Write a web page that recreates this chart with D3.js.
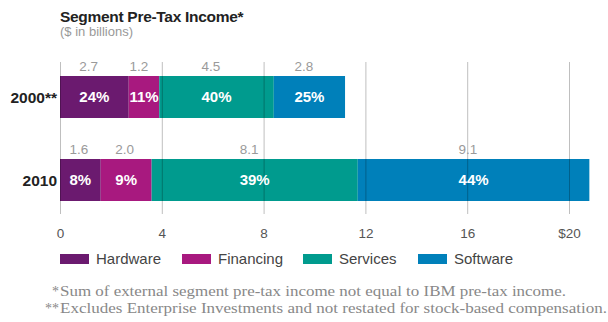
<!DOCTYPE html>
<html>
<head>
<meta charset="UTF-8">
<title>Segment Pre-Tax Income</title>
<script src="https://cdn.jsdelivr.net/npm/d3@7"></script>
<style>
  body { margin: 0; background: #fff; }
  svg text { font-family: "Liberation Sans", Arial, sans-serif; }
  svg text.note { font-family: "Liberation Serif", "Times New Roman", serif; }
</style>
</head>
<body>
<script>
var years = ["2000**", "2010"];
var segments = ["Hardware", "Financing", "Services", "Software"];
var income2000 = [2.7, 1.2, 4.5, 2.8];
var income2010 = [1.6, 2.0, 8.1, 9.1];
var share2000 = ["24%", "11%", "40%", "25%"];
var share2010 = ["8%", "9%", "39%", "44%"];
var tickValues = [0, 4, 8, 12, 16, 20];
var colors = ["#6b1a6f", "#a8197f", "#009b8e", "#0080ba"];

var w = 608, h = 322;

var svg = d3.select("body").append("svg")
  .attr("width", w)
  .attr("height", h);

var x = d3.scaleLinear().domain([0, 20]).range([60, 569]);
var y = d3.scaleBand().domain(years).range([76, 201]).paddingInner(0.494);
var color = d3.scaleOrdinal().domain(segments).range(colors);

// rows for the stack
var rows = [income2000, income2010].map(function(vals, i) {
  var r = { year: years[i] };
  segments.forEach(function(s, j) { r[s] = vals[j]; });
  return r;
});
var shares = [share2000, share2010];
var series = d3.stack().keys(segments)(rows);

// title
svg.append("text")
  .attr("x", 60).attr("y", 22)
  .attr("font-size", 15.5).attr("font-weight", "bold")
  .attr("letter-spacing", -0.3)
  .attr("fill", "#222")
  .text("Segment Pre-Tax Income*");
svg.append("text")
  .attr("x", 60).attr("y", 36)
  .attr("font-size", 13)
  .attr("fill", "#999")
  .text("($ in billions)");

// bars
var groups = svg.selectAll(".seg")
  .data(series)
  .enter().append("g")
  .attr("class", "seg")
  .attr("fill", function(d) { return color(d.key); });

groups.selectAll("rect")
  .data(function(d) { return d; })
  .enter().append("rect")
  .attr("x", function(d) { return x(d[0]); })
  .attr("y", function(d) { return y(d.data.year); })
  .attr("width", function(d) { return x(d[1]) - x(d[0]); })
  .attr("height", y.bandwidth());

// gridlines + tick labels drawn on top of bars
var axis = d3.axisBottom(x)
  .tickValues(tickValues)
  .tickSizeInner(-(214 - 62))
  .tickSizeOuter(0)
  .tickPadding(14)
  .tickFormat(function(d) { return d === 20 ? "$20" : d; });

var ax = svg.append("g")
  .attr("transform", "translate(0,214)")
  .call(axis);
ax.select(".domain").remove();
ax.selectAll(".tick line").attr("stroke", "#000").attr("stroke-opacity", 0.25);
ax.selectAll(".tick text")
  .attr("font-size", 13.5)
  .attr("fill", "#555");

// labels inside and above bars
series.forEach(function(s, j) {
  s.forEach(function(d, i) {
    var cx = (x(d[0]) + x(d[1])) / 2;
    var y0 = y(d.data.year);
    var pct = svg.append("text")
      .attr("x", cx)
      .attr("y", y0 + y.bandwidth() / 2)
      .attr("dy", "0.36em")
      .attr("text-anchor", "middle")
      .attr("font-size", 15)
      .attr("font-weight", "bold")
      .attr("fill", "#fff")
      .text(shares[i][j]);
    var left = pct.node().getBBox().x;
    svg.append("text")
      .attr("x", left)
      .attr("y", y0 - 5)
      .attr("font-size", 13.5)
      .attr("fill", "#9a9a9a")
      .text(d3.format(".1f")(d[1] - d[0]));
  });
});

// year labels
svg.selectAll(".year")
  .data(years)
  .enter().append("text")
  .attr("class", "year")
  .attr("x", 57)
  .attr("y", function(d) { return y(d) + y.bandwidth() / 2; })
  .attr("dy", "0.36em")
  .attr("text-anchor", "end")
  .attr("font-size", 15.5)
  .attr("font-weight", "bold")
  .attr("fill", "#222")
  .text(function(d) { return d; });

// legend
var legendX = [60, 182, 303, 418];
var leg = svg.selectAll(".leg")
  .data(segments)
  .enter().append("g")
  .attr("class", "leg")
  .attr("transform", function(d, i) { return "translate(" + legendX[i] + ",254)"; });
leg.append("rect")
  .attr("width", 29).attr("height", 10)
  .attr("fill", function(d) { return color(d); });
leg.append("text")
  .attr("x", 36).attr("y", 5)
  .attr("dy", "0.36em")
  .attr("font-size", 15)
  .attr("fill", "#444")
  .text(function(d) { return d; });

// footnotes
var notes = [
  ["*", "Sum of external segment pre-tax income not equal to IBM pre-tax income.", 506],
  ["**", "Excludes Enterprise Investments and not restated for stock-based compensation.", 547]
];
notes.forEach(function(n, i) {
  var yy = 296 + i * 17;
  svg.append("text")
    .attr("class", "note")
    .attr("x", 59).attr("y", yy)
    .attr("text-anchor", "end")
    .attr("font-size", 14)
    .attr("fill", "#888")
    .text(n[0]);
  svg.append("text")
    .attr("class", "note")
    .attr("x", 60).attr("y", yy)
    .attr("font-size", 14.5)
    .attr("textLength", n[2])
    .attr("lengthAdjust", "spacingAndGlyphs")
    .attr("fill", "#888")
    .text(n[1]);
});
</script>
</body>
</html>
